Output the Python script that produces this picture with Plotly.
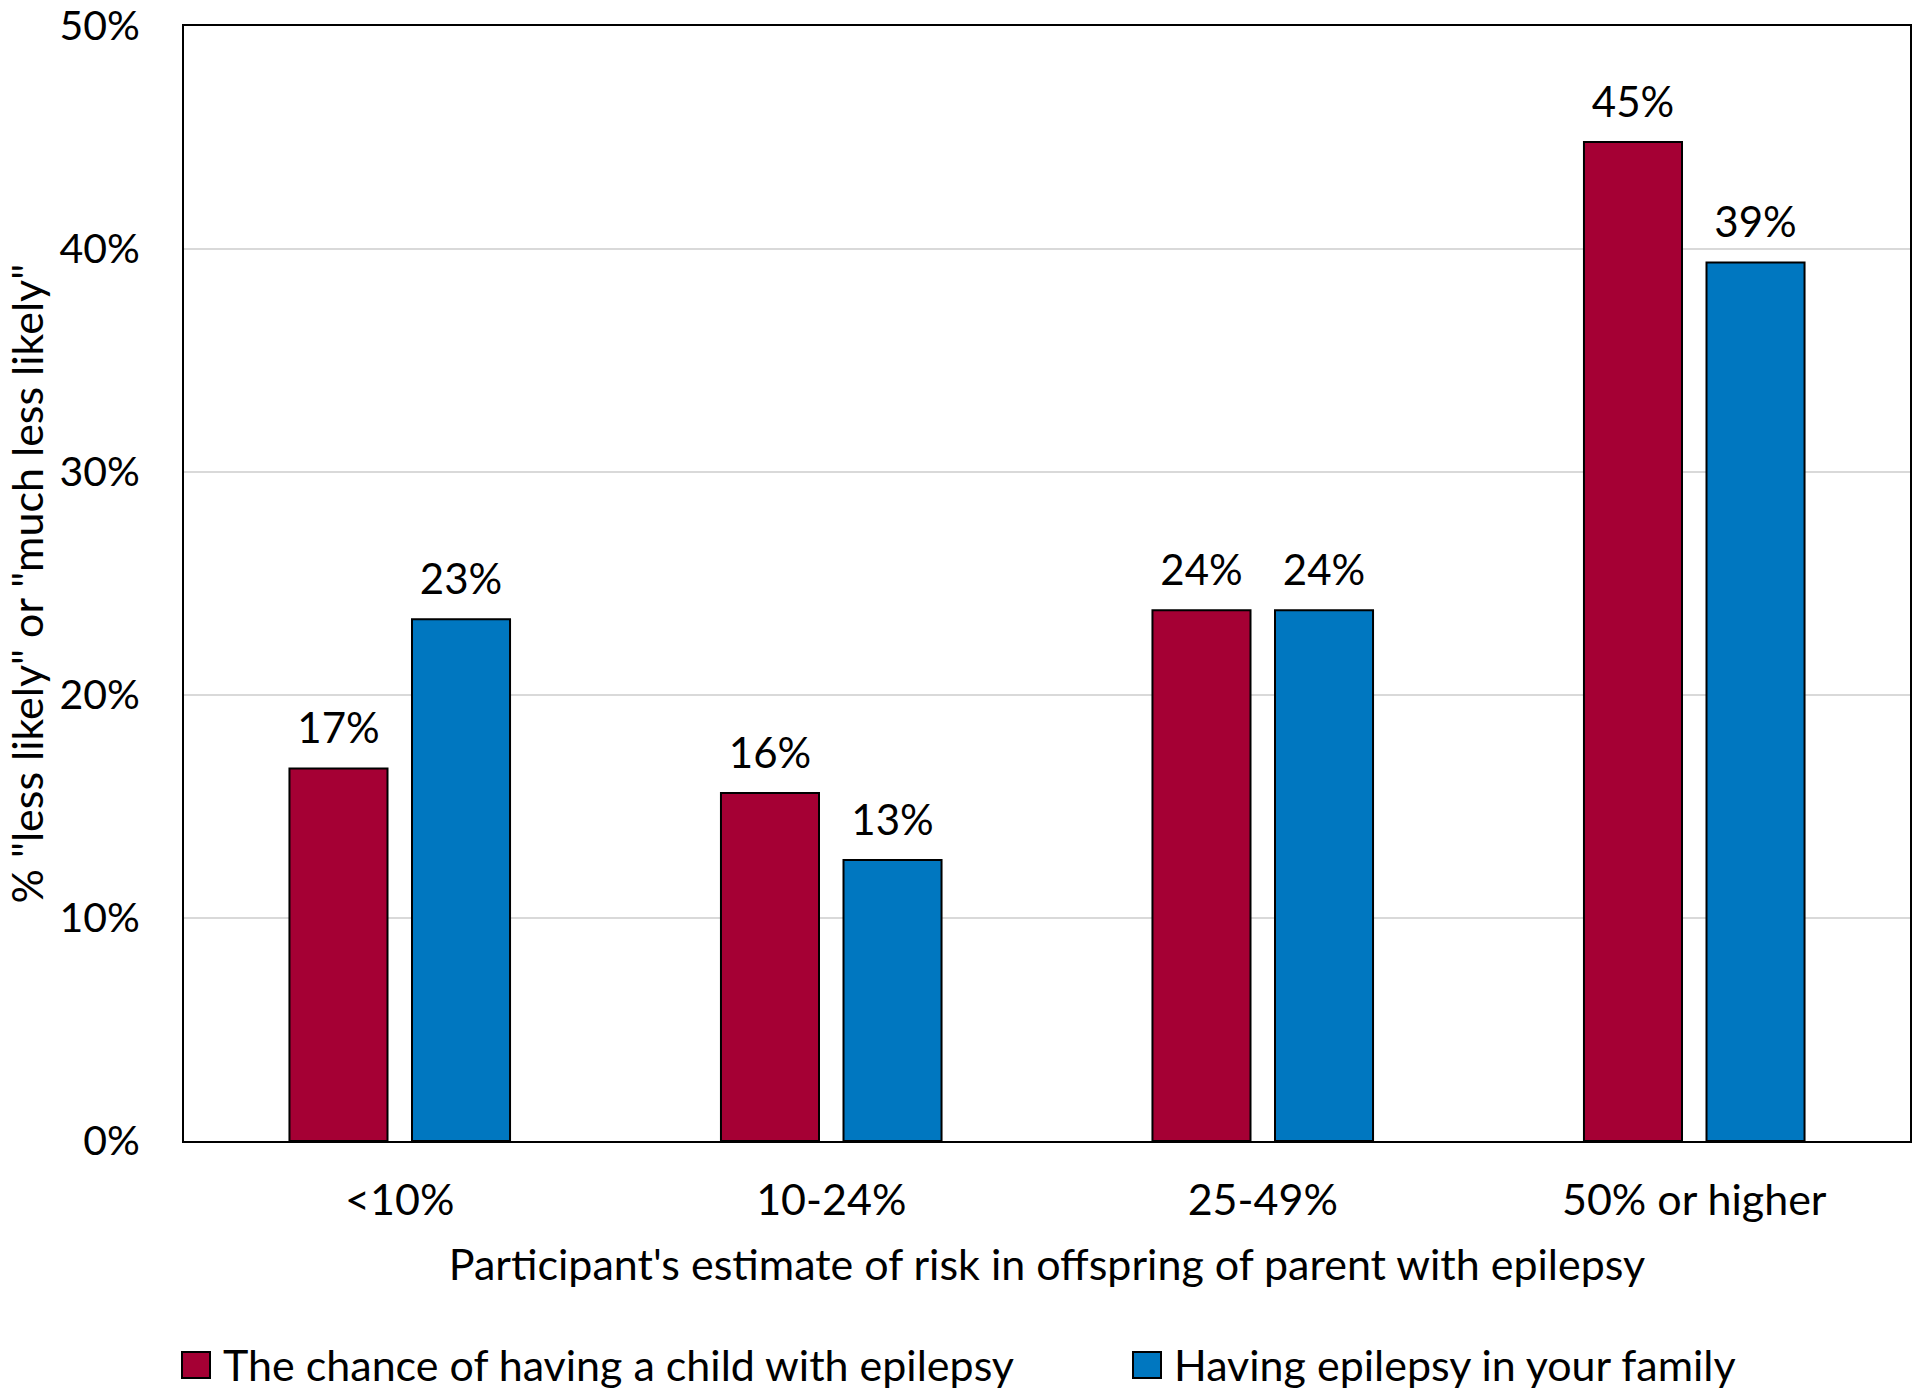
import plotly.graph_objects as go

categories = ["<10%", "10-24%", "25-49%", "50% or higher"]
series_names = ["The chance of having a child with epilepsy", "Having epilepsy in your family"]
child_vals = [16.7, 15.6, 23.8, 44.8]
family_vals = [23.4, 12.6, 23.8, 39.4]
colors = ["#A50034", "#0077C0"]
y_title = '% "less likely" or "much less likely"'
x_title = "Participant's estimate of risk in offspring of parent with epilepsy"

FONT = "Lato"
L, R, T, B = 184, 10, 26, 254
W, H = 1920, 1395
pw, ph = W - L - R, H - T - B

fig = go.Figure()
for name, vals, col, og in zip(series_names, [child_vals, family_vals], colors, ["a", "b"]):
    fig.add_trace(go.Bar(
        x=categories, y=vals, name=name, offsetgroup=og,
        marker=dict(color=col, line=dict(color="black", width=2)),
        showlegend=False, hoverinfo="skip"))
    fig.add_trace(go.Scatter(
        x=categories, y=vals, mode="markers+text", offsetgroup=og,
        marker=dict(size=22, opacity=0), text=[f"{v:.0f}%" for v in vals],
        textposition="top center", textfont=dict(family=FONT, size=42, color="black"),
        showlegend=False, hoverinfo="skip", cliponaxis=False))

def px2x(p):
    return (p - L) / pw

def py2y(p):
    return (H - B - p) / ph

shapes = []
annotations = []
legend_items = [(182, 210, 221), (1133, 1161, 1172)]
for (x0, x1, tx), name, col in zip(legend_items, series_names, colors):
    shapes.append(dict(type="rect", xref="paper", yref="paper",
                       x0=px2x(x0), x1=px2x(x1), y0=py2y(1378), y1=py2y(1352),
                       fillcolor=col, line=dict(color="black", width=2)))
    annotations.append(dict(xref="paper", yref="paper", x=px2x(tx), y=py2y(1364),
                            xanchor="left", yanchor="middle", showarrow=False,
                            text=name, font=dict(family=FONT, size=43, color="black")))
annotations.append(dict(xref="paper", yref="paper", x=px2x(26), y=0.5,
                        xanchor="center", yanchor="middle", showarrow=False, textangle=-90,
                        text=y_title, font=dict(family=FONT, size=43, color="black")))

fig.update_layout(
    width=W, height=H,
    margin=dict(l=L, r=R, t=T, b=B),
    paper_bgcolor="white", plot_bgcolor="white",
    font=dict(family=FONT, color="black"),
    bargap=0.432, bargroupgap=0.2,
    barmode="group", scattermode="group", scattergap=0.432,
    shapes=shapes, annotations=annotations,
    xaxis=dict(
        categoryorder="array", categoryarray=categories, automargin=False,
        showline=True, mirror=True, linecolor="black", linewidth=2,
        ticks="", tickfont=dict(family=FONT, size=43), ticklabelstandoff=20,
        title=dict(text=x_title, font=dict(family=FONT, size=43), standoff=27),
    ),
    yaxis=dict(
        range=[0, 50], dtick=10, ticksuffix="%", automargin=False,
        ticklabeloverflow="allow",
        showline=True, mirror=True, linecolor="black", linewidth=2,
        showgrid=True, gridcolor="#D9D9D9", gridwidth=2, zeroline=False,
        tickfont=dict(family=FONT, size=41), ticklabelstandoff=34,
    ),
)

fig.write_html("out.html", config={"displayModeBar": False},
               post_script="document.body.style.margin='0';")
